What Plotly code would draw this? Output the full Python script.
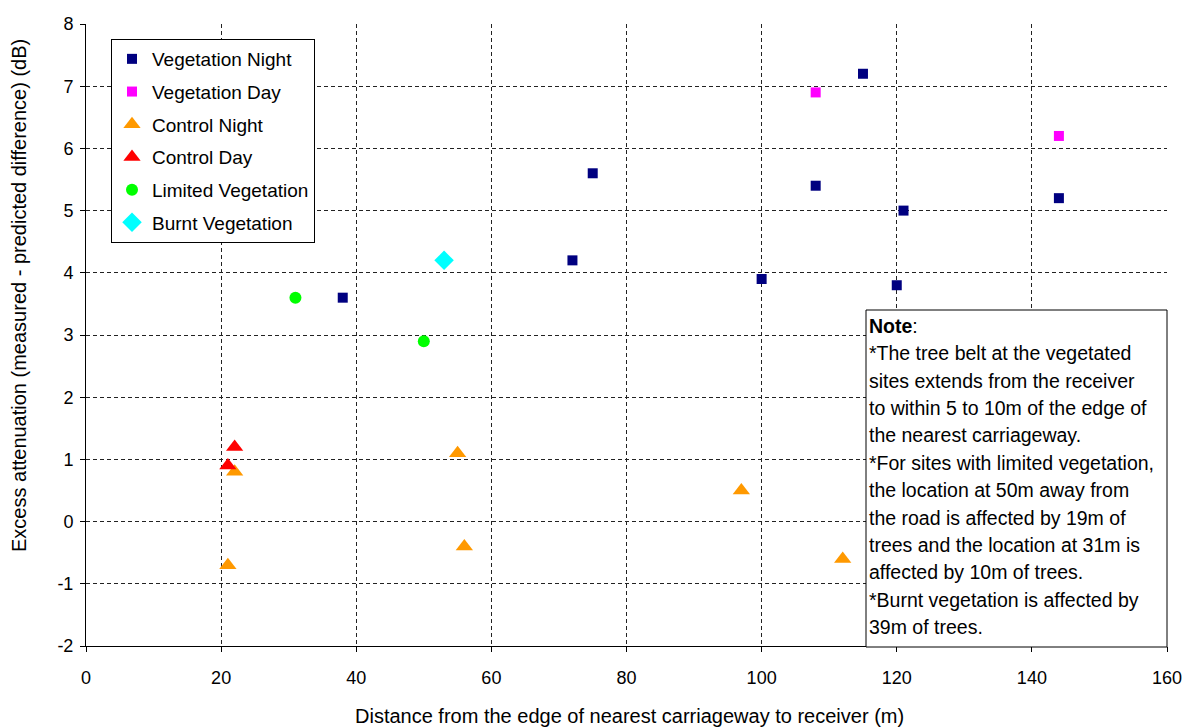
import plotly.graph_objects as go

# ---- data ----
veg_night_x = [38, 72, 75, 100, 108, 115, 120, 121, 144]
veg_night_y = [3.6, 4.2, 5.6, 3.9, 5.4, 7.2, 3.8, 5.0, 5.2]
veg_day_x = [108, 144]
veg_day_y = [6.9, 6.2]
ctrl_night_x = [21, 22, 55, 56, 97, 112]
ctrl_night_y = [-0.7, 0.8, 1.1, -0.4, 0.5, -0.6]
ctrl_day_x = [21, 22]
ctrl_day_y = [0.9, 1.2]
lim_veg_x = [31, 50]
lim_veg_y = [3.6, 2.9]
burnt_x = [53]
burnt_y = [4.2]

x_ticks = [0, 20, 40, 60, 80, 100, 120, 140, 160]
y_ticks = [-2, -1, 0, 1, 2, 3, 4, 5, 6, 7, 8]
y_tick_text = ["-2", "-1", "0", "1", "2", "3", "4", "5", "6", "7", "8"]

note_lines = [
    "<b>Note</b>:",
    "*The tree belt at the vegetated",
    "sites extends from the receiver",
    "to within 5 to 10m of the edge of",
    "the nearest carriageway.",
    "*For sites with limited vegetation,",
    "the location at 50m away from",
    "the road is affected by 19m of",
    "trees and the location at 31m is",
    "affected by 10m of trees.",
    "*Burnt vegetation is affected by",
    "39m of trees.",
]

FONT = "Liberation Sans, Arial, sans-serif"
W, H = 1186, 727
L, T = 86, 24
PW, PH = 1081, 622
R, B = W - L - PW, H - T - PH


def px(xp):
    return (xp - L) / PW


def py(yp):
    return (H - B - yp) / PH


fig = go.Figure()
series = [
    ("Vegetation Night", veg_night_x, veg_night_y, "square", 10, "#000080"),
    ("Vegetation Day", veg_day_x, veg_day_y, "square", 10, "#FF00FF"),
    ("Control Night", ctrl_night_x, ctrl_night_y, "triangle-up", 15, "#FF9900"),
    ("Control Day", ctrl_day_x, ctrl_day_y, "triangle-up", 15, "#FF0000"),
    ("Limited Vegetation", lim_veg_x, lim_veg_y, "circle", 12, "#00FF00"),
    ("Burnt Vegetation", burnt_x, burnt_y, "diamond", 15, "#00FFFF"),
]
for i, (name, xs, ys, sym, size, col) in enumerate(series):
    fig.add_trace(go.Scatter(
        x=xs, y=ys, mode="markers", name=name, legendgroup=f"g{i}",
        marker=dict(symbol=sym, size=size, color=col, line=dict(width=0)),
    ))

axis_common = dict(
    showgrid=True, gridcolor="#222222", gridwidth=1, griddash="4px,3px",
    showline=True, linecolor="black", linewidth=1,
    ticks="outside", ticklen=5, tickcolor="black",
    zeroline=False, automargin=False,
    tickfont=dict(family=FONT, size=18, color="black"),
)

fig.update_layout(
    width=W, height=H,
    margin=dict(l=L, r=R, t=T, b=B),
    paper_bgcolor="white", plot_bgcolor="white",
    xaxis=dict(range=[0, 160], tickvals=x_ticks, ticklabelstandoff=10,
               **axis_common),
    yaxis=dict(range=[-2, 8], tickvals=y_ticks, ticktext=y_tick_text,
               ticklabelstandoff=3, **axis_common),
    showlegend=True,
    legend=dict(
        x=px(111), y=py(39), xanchor="left", yanchor="top",
        bgcolor="white", bordercolor="black", borderwidth=1,
        font=dict(family=FONT, size=19, color="black"),
        tracegroupgap=5, itemsizing="trace", itemwidth=30,
    ),
    font=dict(family=FONT, color="black"),
)

# axis titles
fig.add_annotation(
    text="Distance from the edge of nearest carriageway to receiver (m)",
    xref="paper", yref="paper", x=px(629), y=py(716),
    xanchor="center", yanchor="middle", showarrow=False,
    font=dict(family=FONT, size=20, color="black"),
)
fig.add_annotation(
    text="Excess attenuation (measured - predicted difference) (dB)",
    xref="paper", yref="paper", x=px(19), y=py(296),
    xanchor="center", yanchor="middle", showarrow=False, textangle=-90,
    font=dict(family=FONT, size=20, color="black"),
)

# note box
fig.add_shape(
    type="rect", xref="paper", yref="paper",
    x0=px(866), x1=px(1167), y0=py(647), y1=py(310),
    line=dict(color="black", width=1), fillcolor="white", layer="above",
)
for i, line in enumerate(note_lines):
    fig.add_annotation(
        text=line, xref="paper", yref="paper",
        x=px(867), y=py(325.7 + i * 27.4),
        xanchor="left", yanchor="middle", showarrow=False, align="left",
        font=dict(family=FONT, size=19.5, color="black"),
    )

fig.write_html(
    "out.html",
    config={"displayModeBar": False},
    post_script="document.body.style.margin='0';document.body.style.overflow='hidden';",
)
